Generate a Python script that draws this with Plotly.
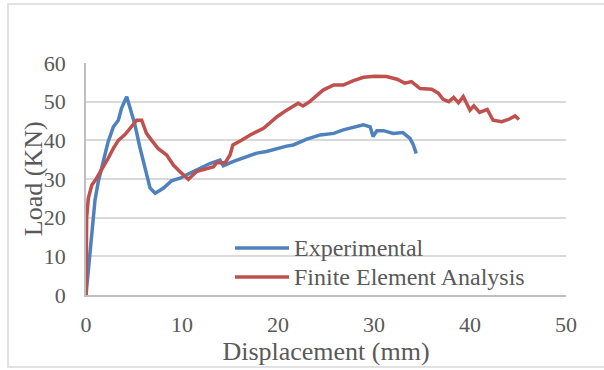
import plotly.graph_objects as go

# Load-displacement curves (displacement in mm, load in kN)
exp_x = [0, 0.24, 0.6, 0.94, 1.28, 1.8, 2.3, 2.85, 3.37, 3.7, 4.24, 4.6, 5.1, 5.6, 6.15,
         6.67, 7.2, 8.05, 8.9, 9.8, 10.8, 11.9, 12.9, 13.96, 14.3, 15.3, 16.7, 17.8, 18.8,
         19.9, 20.9, 21.6, 23.0, 24.4, 25.8, 26.8, 27.8, 28.9, 29.6, 29.9, 30.3, 31.0,
         32.0, 33.0, 33.75, 34.1, 34.4]
exp_y = [0, 6.5, 17.3, 24.6, 29.3, 34.5, 39.6, 43.5, 45.2, 48.3, 51.3, 48.3, 44, 38.3, 32.9,
         27.7, 26.3, 27.6, 29.5, 30.2, 31.5, 32.8, 34, 34.9, 33.4, 34.5, 35.8, 36.7, 37.1,
         37.9, 38.5, 38.8, 40.3, 41.4, 41.8, 42.7, 43.4, 44, 43.5, 41, 42.5, 42.5,
         41.8, 42, 40.5, 38.8, 36.6]

fea_x = [0, 0.07, 0.24, 0.6, 1.1, 1.63, 2.3, 2.85, 3.37, 4.06, 4.76, 5.28, 5.8, 6.3, 6.84,
         7.5, 8.4, 9.1, 9.8, 10.66, 11.5, 12.6, 13.3, 13.6, 14.5, 15.0, 15.3, 16.2, 17.1,
         18.5, 19.9, 20.9, 22.1, 22.6, 23.3, 24.7, 25.8, 26.8, 27.8, 28.9, 30.1, 31.3,
         32.4, 33.2, 33.9, 34.8, 36.0, 36.7, 37.2, 37.8, 38.3, 38.8, 39.3, 40.0, 40.4,
         41.0, 41.8, 42.4, 43.3, 44.0, 44.7, 45.1]
fea_y = [0, 20, 25, 28.4, 30.2, 32.3, 35.3, 37.9, 40, 41.5, 43.5, 45.2, 45.2, 41.8, 40,
         37.9, 36.2, 33.6, 31.9, 29.9, 31.9, 32.7, 33.2, 34.2, 34.2, 36.2, 38.8, 40, 41.4,
         43.1, 46.1, 47.8, 49.6, 48.9, 50, 53, 54.3, 54.3, 55.4, 56.3, 56.6, 56.5,
         55.8, 54.8, 55.2, 53.4, 53.2, 52.2, 50.6, 50, 51.1, 49.7, 51.3, 47.8, 48.9,
         47.2, 48, 45.2, 44.8, 45.4, 46.3, 45.4]

series_names = ["Experimental", "Finite Element Analysis"]
series_colors = ["#4F81BD", "#C0504D"]

FONT = "Liberation Serif, Times New Roman, serif"
TXT = "#595959"

fig = go.Figure()
for xs, ys, name, col in [(exp_x, exp_y, series_names[0], series_colors[0]),
                          (fea_x, fea_y, series_names[1], series_colors[1])]:
    fig.add_trace(go.Scatter(x=xs, y=ys, mode="lines", name=name, showlegend=False,
                             line=dict(color=col, width=3.5)))

# Hand-placed legend (long line swatches, no box)
leg_rows = [0.2026, 0.0776]
for name, col, yy in zip(series_names, series_colors, leg_rows):
    fig.add_shape(type="line", xref="paper", yref="paper", x0=0.3104, x1=0.4229,
                  y0=yy, y1=yy, line=dict(color=col, width=3.5))
    fig.add_annotation(xref="paper", yref="paper", x=0.429, y=yy, text=name,
                       showarrow=False, xanchor="left", yanchor="middle",
                       font=dict(family=FONT, size=24, color=TXT))

# Y-axis title placed close to the tick labels
fig.add_annotation(xref="paper", yref="paper", x=-0.110, y=0.5, text="Load (KN)",
                   textangle=-90, showarrow=False, xanchor="center", yanchor="middle",
                   font=dict(family=FONT, size=26, color=TXT))

# Chart-area border
fig.add_shape(type="rect", xref="paper", yref="paper", x0=-0.1625, x1=1.1,
              y0=-0.31, y1=1.254, line=dict(color="#D9D9D9", width=1.5), layer="below")

fig.update_layout(
    width=604, height=370,
    margin=dict(l=86, r=38, t=63, b=75),
    paper_bgcolor="white", plot_bgcolor="white",
    font=dict(family=FONT, color=TXT),
    xaxis=dict(range=[0, 50], dtick=10, showgrid=False, zeroline=False,
               showline=True, linecolor="#BFBFBF", linewidth=1.5,
               tickfont=dict(size=22, color=TXT), ticklabelstandoff=9,
               title=dict(text="Displacement (mm)", font=dict(size=26, color=TXT),
                          standoff=3)),
    yaxis=dict(range=[0, 60], dtick=10, showgrid=True, gridcolor="#D9D9D9",
               gridwidth=1.5, zeroline=False, showline=True, linecolor="#BFBFBF",
               linewidth=1.5, tickfont=dict(size=22, color=TXT), ticklabelstandoff=14),
)

fig.write_html("out.html")
